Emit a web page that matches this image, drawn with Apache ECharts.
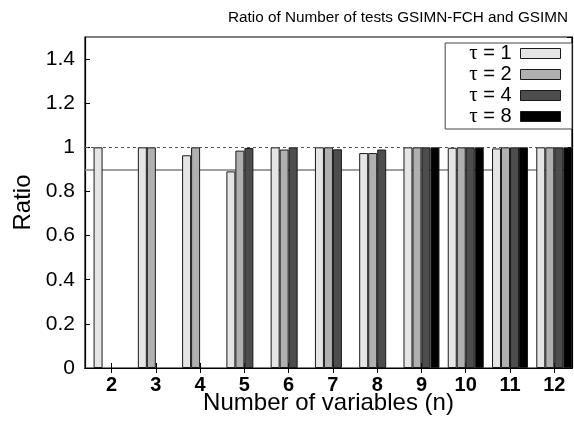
<!DOCTYPE html>
<html><head><meta charset="utf-8">
<script src="https://cdn.jsdelivr.net/npm/echarts@6/dist/echarts.min.js"></script>
<style>html,body{margin:0;padding:0;background:#fff}#c{width:574px;height:421px}</style>
</head><body><div id="c"></div>
<script>
const categories = [2, 3, 4, 5, 6, 7, 8, 9, 10, 11, 12];
const seriesNames = ['τ = 1', 'τ = 2', 'τ = 4', 'τ = 8'];
const tau1 = [1.0, 1.0, 0.964, 0.891, 1.0, 1.0, 0.974, 1.0, 0.998, 0.995, 1.0];
const tau2 = [null, 1.0, 1.0, 0.985, 0.99, 1.0, 0.974, 1.0, 1.0, 1.0, 1.0];
const tau4 = [null, null, null, 0.997, 1.0, 0.991, 0.99, 1.0, 1.0, 1.0, 1.0];
const tau8 = [null, null, null, null, null, null, null, 1.0, 1.0, 1.0, 1.0];
const yTicks = [0, 0.2, 0.4, 0.6, 0.8, 1, 1.2, 1.4];
const refSolid = [0.9];
const refDashed = [1];
const colors = ['#e5e5e5', '#b0b0b0', '#4d4d4d', '#000000'];

const font = 'Liberation Sans, Arial, sans-serif';
const allSeries = [tau1, tau2, tau4, tau8];
const series = allSeries.map((vals, i) => ({
  name: seriesNames[i],
  type: 'bar',
  barWidth: 9,
  barGap: '0%',
  data: vals.map((v, k) => [categories[k], v]),
  itemStyle: { color: colors[i], borderColor: '#1a1a1a', borderWidth: 1 },
  z: 2
}));
series[0].markLine = {
  silent: true, symbol: 'none', z: 1, label: { show: false },
  lineStyle: { color: '#7f7f7f', width: 1.5, type: 'solid' },
  data: refSolid.map(v => ({ yAxis: v }))
};
series[1].markLine = {
  silent: true, symbol: 'none', z: 5, label: { show: false },
  lineStyle: { color: '#555', width: 1, type: [3, 3] },
  data: refDashed.map(v => ({ yAxis: v }))
};

const chart = echarts.init(document.getElementById('c'), null, { renderer: 'canvas' });
chart.setOption({
  animation: false,
  backgroundColor: '#fff',
  title: {
    text: 'Ratio of Number of tests GSIMN-FCH and GSIMN',
    left: 223, top: 5,
    textStyle: { fontFamily: font, fontSize: 15.3, fontWeight: 'normal', color: '#000' }
  },
  legend: {
    orient: 'vertical', right: 2, top: 43,
    align: 'right',
    itemWidth: 40, itemHeight: 10, itemGap: 0,
    padding: [0, 11, 2, 24],
    borderColor: '#444', borderWidth: 1, backgroundColor: '#fff',
    formatter: name => '{t|τ}{s|' + name.slice(1) + '}',
    textStyle: {
      color: '#000', lineHeight: 21, padding: [0, 4, 0, 0],
      rich: {
        t: { fontFamily: 'Liberation Serif, serif', fontSize: 21, color: '#000', lineHeight: 21 },
        s: { fontFamily: font, fontSize: 20, color: '#000', lineHeight: 21 }
      }
    },
    itemStyle: { borderColor: '#1a1a1a', borderWidth: 1 },
    icon: 'rect',
    data: seriesNames
  },
  grid: { left: 85, top: 37, right: 2, bottom: 53, show: true, borderColor: '#000', borderWidth: 1.2,
    containLabel: false, outerBoundsMode: 'none' },
  xAxis: [{
    type: 'value', min: 1.4, max: 12.4,
    name: 'Number of variables (n)', nameLocation: 'middle', nameGap: 23, nameMoveOverlap: false,
    nameTextStyle: { fontFamily: font, fontSize: 24, color: '#000' },
    axisLine: { show: true, onZero: false, lineStyle: { color: '#000', width: 1.2 } },
    axisTick: { show: true, inside: true, length: 5, customValues: categories, lineStyle: { color: '#000' } },
    axisLabel: { customValues: categories, fontFamily: font, fontSize: 20, fontWeight: 'bold', color: '#000', margin: 7 },
    splitLine: { show: false }
  }, {
    type: 'value', min: 1.4, max: 12.4, position: 'top',
    axisLine: { show: true, lineStyle: { color: '#000', width: 1.2 } },
    axisTick: { show: true, inside: true, length: 5, customValues: categories, lineStyle: { color: '#000' } },
    axisLabel: { show: false },
    splitLine: { show: false }
  }],
  yAxis: [{
    type: 'value', min: 0, max: 1.5, interval: 0.2,
    name: 'Ratio', nameLocation: 'middle', nameGap: 50, nameMoveOverlap: false,
    nameTextStyle: { fontFamily: font, fontSize: 24, color: '#000' },
    axisLine: { show: true, lineStyle: { color: '#000', width: 1.2 } },
    axisTick: { show: true, inside: true, length: 5, lineStyle: { color: '#000' } },
    axisLabel: { fontFamily: font, fontSize: 21, color: '#000', margin: 10,
      showMaxLabel: false,
      formatter: v => (yTicks.some(t => Math.abs(t - v) < 1e-9) ? String(+v.toFixed(1)) : '') },
    splitLine: { show: false }
  }, {
    type: 'value', min: 0, max: 1.5, interval: 0.2, position: 'right',
    axisLine: { show: true, lineStyle: { color: '#000', width: 1.2 } },
    axisTick: { show: true, inside: true, length: 5, lineStyle: { color: '#000' } },
    axisLabel: { show: false },
    splitLine: { show: false }
  }],
  series: series
});
</script></body></html>
